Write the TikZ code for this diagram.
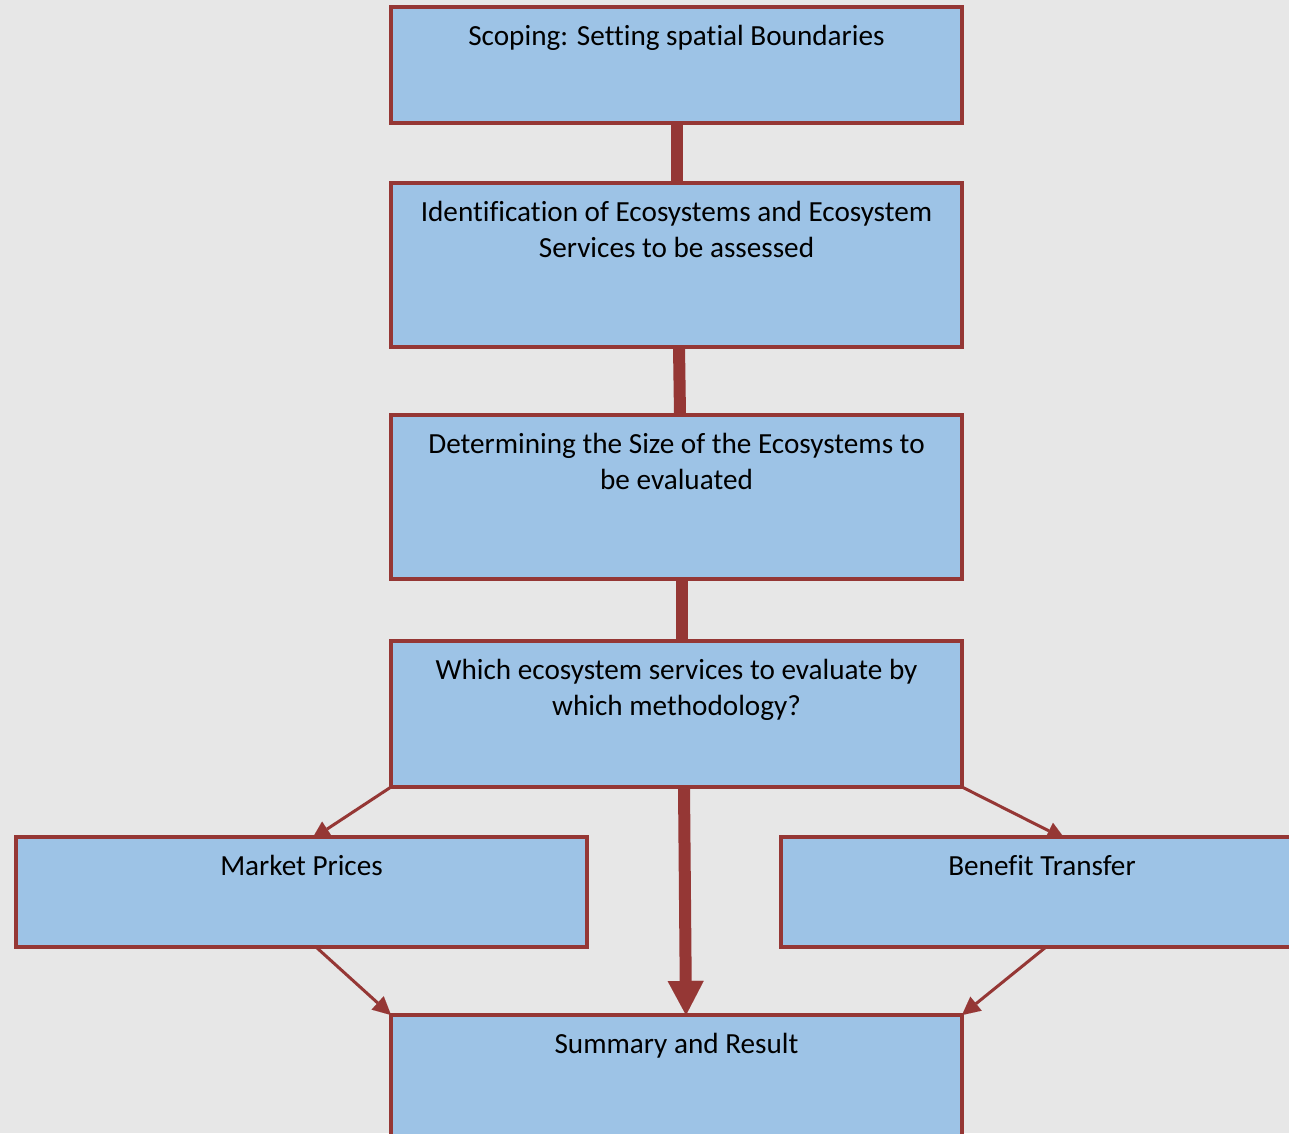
\documentclass[tikz,border=0pt]{standalone}
\usepackage{fontspec}
\setmainfont{Carlito}[Ligatures=NoCommon]
\usetikzlibrary{arrows.meta,calc}
\pgfdeclarelayer{canvas}
\pgfdeclarelayer{links}
\pgfsetlayers{canvas,links,main}
\definecolor{pagegray}{HTML}{E7E7E7}
\definecolor{boxfill}{HTML}{9DC3E6}
\definecolor{boxline}{HTML}{953735}
\tikzset{
  stepbox/.style={draw=boxline, fill=boxfill, line width=4pt, rectangle,
    inner sep=0pt, outer sep=0pt},
  boxtext/.style={anchor=base, align=center, inner sep=0pt, text=black,
    font=\fontsize{29.2}{36}\selectfont},
  trunk/.style={draw=boxline, line width=12pt},
  branch/.style={draw=boxline, line width=3pt,
    -{Triangle[length=18pt,width=18pt,line width=0.01pt]}},
}
\begin{document}
\begin{tikzpicture}[x=1pt,y=-1pt]
  \begin{pgfonlayer}{canvas}
    \fill[pagegray] (0,0) rectangle (1289,1133);
  \end{pgfonlayer}
  \useasboundingbox (0,0) rectangle (1289,1133);
  \begin{scope}
    \clip (0,0) rectangle (1289,1133);
    % process boxes
    \node[stepbox, minimum width=571pt, minimum height=116pt] (b1) at (676.5,65) {};
    \node[stepbox, minimum width=571pt, minimum height=164pt] (b2) at (676.5,265) {};
    \node[stepbox, minimum width=571pt, minimum height=164pt] (b3) at (676.5,497) {};
    \node[stepbox, minimum width=571pt, minimum height=146pt] (b4) at (676.5,714) {};
    \node[stepbox, minimum width=571pt, minimum height=110pt] (mp) at (301.5,892) {};
    \node[stepbox, minimum width=522pt, minimum height=110pt] (bt) at (1042,892) {};
    \node[stepbox, minimum width=571pt, minimum height=146pt] (sr) at (676.5,1088) {};
    % box captions (the base anchor sits on the last line)
    \node[boxtext] (t1) at ($(b1.north)+(0,38)$) {Scoping: Setting spatial Boundaries};
    \node[boxtext] (t2) at ($(b2.north)+(0,74)$) {Identification of Ecosystems and Ecosystem\\Services to be assessed};
    \node[boxtext] (t3) at ($(b3.north)+(0,74)$) {Determining the Size of the Ecosystems to\\be evaluated};
    \node[boxtext] (t4) at ($(b4.north)+(0,74)$) {Which ecosystem services to evaluate by\\which methodology?};
    \node[boxtext] (t5) at ($(mp.north)+(0,38)$) {Market Prices};
    \node[boxtext] (t6) at ($(bt.north)+(0,38)$) {Benefit Transfer};
    \node[boxtext] (t7) at ($(sr.north)+(0,38)$) {Summary and Result};
    % connectors, kept under the boxes
    \begin{pgfonlayer}{links}
      \draw[trunk] ([xshift=0.5pt]b1.south) -- ([xshift=0.5pt]b2.north);
      \draw[trunk] ([xshift=2.5pt]b2.south) -- ([xshift=3.5pt]b3.north);
      \draw[trunk] ([xshift=5.5pt]b3.south) -- ([xshift=5.5pt]b4.north);
      \coordinate (mpin) at (312,839);
      \coordinate (btin) at (1065,839);
      \draw[branch] (b4.south west) -- (mpin);
      \draw[branch] (b4.south east) -- (btin);
      \draw[branch] ($(mp.south)+(14.5,0)$) -- (sr.north west);
      \draw[branch] ($(bt.south)+(4,0)$) -- (sr.north east);
    \end{pgfonlayer}
    \draw[trunk, -{Triangle[length=34pt,width=36pt,line width=0.01pt]}]
      ([xshift=7.5pt]b4.south) -- ([xshift=9.5pt]sr.north);
  \end{scope}
\end{tikzpicture}
\end{document}
